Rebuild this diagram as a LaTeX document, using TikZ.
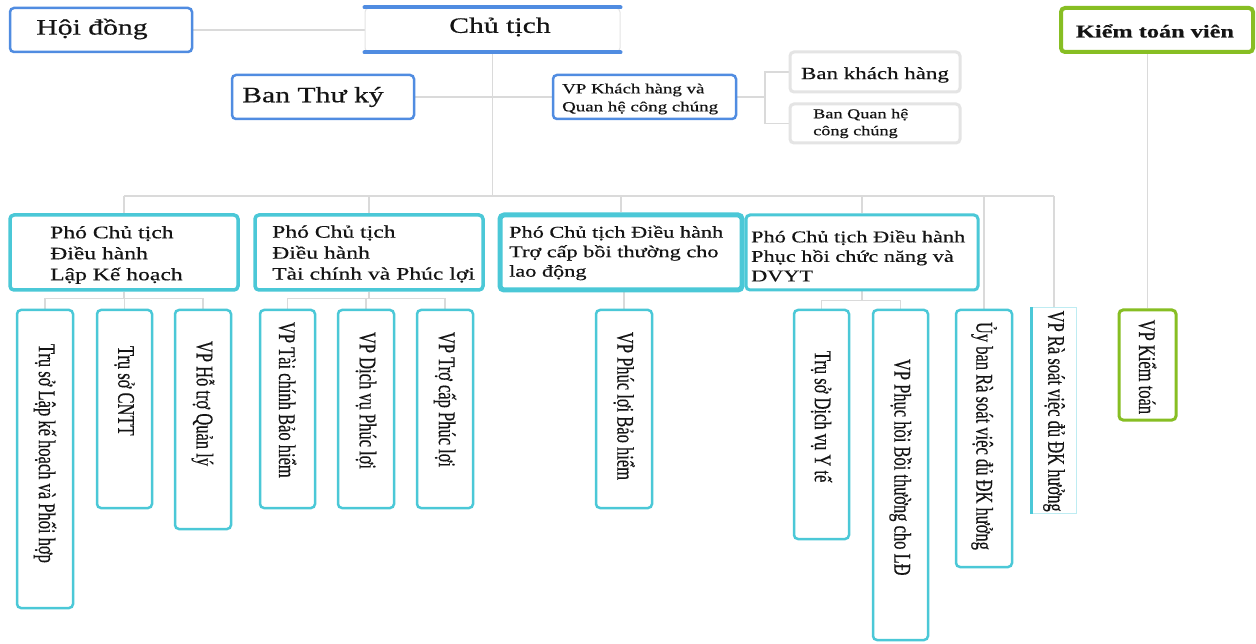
\documentclass[tikz,border=0pt]{standalone}
\usepackage{fontspec}
\usepackage{graphicx}
\setmainfont{Liberation Serif}
\newfontfamily\wfont[FakeStretch=1.35,FakeBold=0.5]{Liberation Serif}
\newfontfamily\vfont[FakeBold=0.4]{Liberation Serif}
\usetikzlibrary{calc,backgrounds}
\definecolor{cblue}{RGB}{80,140,225}
\definecolor{ccyan}{RGB}{75,200,215}
\definecolor{cpale}{RGB}{190,236,242}
\definecolor{cgreen}{RGB}{135,190,35}
\definecolor{cgray}{RGB}{228,228,228}
\definecolor{cline}{RGB}{218,218,218}
\definecolor{ctext}{RGB}{20,20,20}
\newcommand\vlab[1]{\scalebox{1}[1.45]{\vfont\fontsize{16.5}{18}\selectfont #1}}
\tikzset{
  box/.style={rectangle, rounded corners=4pt, fill=white, inner sep=0pt},
  bluebox/.style={box, draw=cblue, line width=2.5pt},
  graybox/.style={box, draw=cgray, line width=3pt},
  pbox/.style={box, draw=ccyan, line width=3.5pt},
  cbox/.style={box, draw=ccyan, line width=2.5pt},
  gbox/.style={box, draw=cgreen, line width=3pt},
  conn/.style={draw=cline, line width=1.5pt},
  htxt/.style={text=ctext, inner sep=0pt, font=\wfont},
  vtxt/.style={text=ctext, inner sep=0pt, rotate=-90, anchor=west},
}
\begin{document}
\begin{tikzpicture}[x=1pt,y=-1pt]
\useasboundingbox (0,0) rectangle (1256,644);
\begin{pgfonlayer}{background}
\fill[white] (0,0) rectangle (1256,644);
\end{pgfonlayer}

% top row
\node[bluebox, minimum width=182pt, minimum height=44pt] (hd) at (101,30) {};
\node[htxt, font=\wfont\fontsize{22}{24}\selectfont] (hdt) at (92,29) {Hội đồng};

\node[box, draw=cgray, line width=1pt, minimum width=255pt, minimum height=44pt] (ct) at (492.5,30) {};
\draw[cblue, line width=4pt, line cap=round] (ct.north west) -- (ct.north east);
\draw[cblue, line width=4pt, line cap=round] (ct.south west) -- (ct.south east);
\node[htxt, font=\wfont\fontsize{22}{24}\selectfont] (ctt) at (500,27) {Chủ tịch};

\node[gbox, line width=4pt, minimum width=192pt, minimum height=44pt] (ktv) at (1157,30) {};
\node[htxt, font=\wfont\bfseries\fontsize{18}{20}\selectfont] (ktvt) at (1155,31) {Kiểm toán viên};

% second row
\node[bluebox, minimum width=182pt, minimum height=44pt] (btk) at (323,97) {};
\node[htxt, font=\wfont\fontsize{22}{24}\selectfont] (btkt) at (313,97) {Ban Thư ký};

\node[bluebox, minimum width=183pt, minimum height=44pt] (vpkh) at (644.5,97) {};
\node[htxt, anchor=west, align=left, font=\wfont\fontsize{14}{18}\selectfont] (vpkht) at (562,99) {VP Khách hàng và\\Quan hệ công chúng};

\node[graybox, minimum width=170pt, minimum height=40pt] (bkh) at (875,72) {};
\node[htxt, font=\wfont\fontsize{17}{19}\selectfont] (bkht) at (875,75) {Ban khách hàng};
\node[graybox, minimum width=170pt, minimum height=39pt] (bqh) at (875,123.5) {};
\node[htxt, anchor=west, align=left, font=\wfont\fontsize{13.5}{17}\selectfont] (bqht) at (813,123.5) {Ban Quan hệ\\công chúng};

% vice presidents
\node[pbox, minimum width=228pt, minimum height=75pt] (p1) at (124,252.5) {};
\node[htxt, anchor=west, align=left, font=\wfont\fontsize{17.5}{21}\selectfont] (p1t) at (50,255) {Phó Chủ tịch\\Điều hành\\Lập Kế hoạch};
\node[pbox, minimum width=228pt, minimum height=75pt] (p2) at (369,252.5) {};
\node[htxt, anchor=west, align=left, font=\wfont\fontsize{17.5}{21}\selectfont] (p2t) at (272,254) {Phó Chủ tịch\\Điều hành\\Tài chính và Phúc lợi};
\node[pbox, line width=5pt, minimum width=242pt, minimum height=75pt] (p3) at (621,252.5) {};
\node[htxt, anchor=west, align=left, font=\wfont\fontsize{16.5}{19.5}\selectfont] (p3t) at (509,253) {Phó Chủ tịch Điều hành\\Trợ cấp bồi thường cho\\lao động};
\node[pbox, line width=3pt, minimum width=232pt, minimum height=75pt] (p4) at (862,252.5) {};
\node[htxt, anchor=west, align=left, font=\wfont\fontsize{16.5}{19.5}\selectfont] (p4t) at (751,256) {Phó Chủ tịch Điều hành\\Phục hồi chức năng và\\DVYT};

% bottom boxes
\node[cbox, minimum width=56pt, minimum height=298pt] (b1) at (45,459) {};
\node[vtxt] (b1t) at ($(b1.north)+(0,35)$) {\vlab{Trụ sở Lập kế hoạch và Phối hợp}};
\node[cbox, minimum width=55pt, minimum height=198pt] (b2) at (124.5,409) {};
\node[vtxt] (b2t) at ($(b2.north)+(0,37)$) {\vlab{Trụ sở CNTT}};
\node[cbox, minimum width=56pt, minimum height=219pt] (b3) at (203,419.5) {};
\node[vtxt] (b3t) at ($(b3.north)+(0,32)$) {\vlab{VP Hỗ trợ Quản lý}};
\node[cbox, minimum width=55pt, minimum height=198pt] (b4) at (287.5,409) {};
\node[vtxt] (b4t) at ($(b4.north)+(0,13)$) {\vlab{VP Tài chính Bảo hiểm}};
\node[cbox, minimum width=56pt, minimum height=198pt] (b5) at (366,409) {};
\node[vtxt] (b5t) at ($(b5.north)+(0,23)$) {\vlab{VP Dịch vụ Phúc lợi}};
\node[cbox, minimum width=56pt, minimum height=198pt] (b6) at (445,409) {};
\node[vtxt] (b6t) at ($(b6.north)+(0,23)$) {\vlab{VP Trợ cấp Phúc lợi}};
\node[cbox, minimum width=56pt, minimum height=198pt] (b7) at (624,409) {};
\node[vtxt] (b7t) at ($(b7.north)+(0,23)$) {\vlab{VP Phúc lợi Bảo hiểm}};
\node[cbox, minimum width=55pt, minimum height=229pt] (b8) at (821.5,424.5) {};
\node[vtxt] (b8t) at ($(b8.north)+(0,42)$) {\vlab{Trụ sở Dịch vụ Y tế}};
\node[cbox, minimum width=55pt, minimum height=330pt] (b9) at (900.5,475) {};
\node[vtxt] (b9t) at ($(b9.north)+(0,50)$) {\vlab{VP Phục hồi Bồi thường cho LĐ}};
\node[cbox, minimum width=56pt, minimum height=257pt] (b10) at (984,438.5) {};
\node[vtxt] (b10t) at ($(b10.north)+(0,13)$) {\vlab{Ủy ban Rà soát việc đủ ĐK hưởng}};
\node[box, rounded corners=0pt, draw=cpale, line width=1pt, minimum width=44pt, minimum height=205pt] (rs) at (1054,410.5) {};
\draw[ccyan, line width=3pt] (rs.north west) -- (rs.south west);
\node[vtxt] (rst) at ($(rs.north)+(0,3)$) {\vlab{VP Rà soát việc đủ ĐK hưởng}};
\node[gbox, minimum width=57pt, minimum height=110pt] (vpkt) at (1147.5,365) {};
\node[vtxt] (vpktt) at ($(vpkt.north)+(0,11)$) {\vlab{VP Kiểm toán}};

% connectors
\coordinate (busy) at (0,196);
\coordinate (kx) at (765,0);
\begin{pgfonlayer}{background}
\draw[conn] (hd.east) -- (ct.west);
\draw[conn] (ct.south) -- (ct.south |- busy);
\draw[conn] (btk.east) -- (vpkh.west);
\draw[conn] (vpkh.east) -- (kx |- vpkh.east);
\draw[conn] (bkh.west) -| (kx |- bqh.west) -- (bqh.west);
\draw[conn] (p1.north |- busy) -- (rs.north |- busy);
\foreach \n in {p1,p2,p3,p4,b10,rs} \draw[conn] (\n.north) -- (\n.north |- busy);
\draw[conn] (vpkt.north |- ktv.south) -- (vpkt.north);
\foreach \b in {b1,b2,b3} \draw[conn] (p1.south) |- ([yshift=10pt]\b.north) -- (\b.north);
\foreach \b in {b4,b5,b6} \draw[conn] (p2.south) |- ([yshift=10pt]\b.north) -- (\b.north);
\draw[conn] (b7.north |- p3.south) -- (b7.north);
\foreach \b in {b8,b9} \draw[conn] (p4.south) |- ([yshift=8pt]\b.north) -- (\b.north);
\end{pgfonlayer}
\end{tikzpicture}
\end{document}
